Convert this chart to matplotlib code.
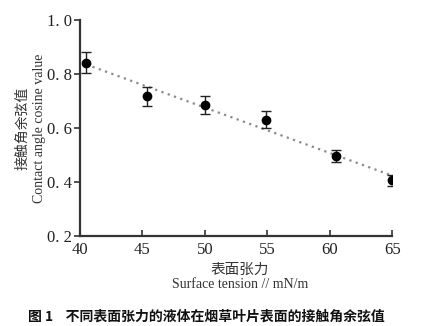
import numpy as np
import matplotlib.pyplot as plt

plt.rcParams['font.family'] = ['Liberation Serif', 'Noto Sans CJK SC', 'DejaVu Serif']

# Surface tension (mN/m) vs. contact angle cosine on tobacco leaf
tension = [40.5, 45.4, 50.0, 54.9, 60.5, 65.0]
cos_value = [0.842, 0.717, 0.686, 0.631, 0.497, 0.406]
cos_err = [0.040, 0.035, 0.033, 0.033, 0.023, 0.020]

x_ticks = [40, 45, 50, 55, 60, 65]
y_ticks = [0.2, 0.4, 0.6, 0.8, 1.0]
y_ticklabels = ['0. 2', '0. 4', '0. 6', '0. 8', '1. 0']

fig = plt.figure(figsize=(4.3, 3.26), dpi=100)
ax = fig.add_axes([0.186, 0.276, 0.726, 0.663])

# linear trend line through the points
k, b = np.polyfit(tension, cos_value, 1)
xs = np.array([tension[0], tension[-1]])
ax.plot(xs, k * xs + b, linestyle=(0, (1, 2)), color='#8a8a8a', linewidth=1.6, zorder=1)

ax.errorbar(tension, cos_value, yerr=cos_err, fmt='o', color='black',
            ecolor='#222222', elinewidth=1.0, capsize=3.5, capthick=1.0,
            markersize=6, zorder=3)

ax.set_xlim(40, 65)
ax.set_ylim(0.2, 1.0)
ax.set_xticks(x_ticks)
ax.set_yticks(y_ticks)
ax.set_yticklabels(y_ticklabels)

for side in ['top', 'right']:
    ax.spines[side].set_visible(False)
for side in ['left', 'bottom']:
    ax.spines[side].set_linewidth(1.6)
    ax.spines[side].set_color('#333333')

ax.tick_params(axis='x', direction='in', length=4, width=1.2, labelsize=12, pad=4, colors='#333333')
ax.tick_params(axis='y', direction='out', length=4, width=1.2, labelsize=12, pad=2, colors='#333333')
for lbl in ax.get_xticklabels() + ax.get_yticklabels():
    lbl.set_color('#222222')

# axis titles, Chinese above English
fig.text(0.052, 0.607, '接触角余弦值', rotation=90, ha='center', va='center',
         fontsize=10, family=['Noto Sans CJK SC'], color='#333333')
fig.text(0.092, 0.607, 'Contact angle cosine value', rotation=90, ha='center', va='center',
         fontsize=10, color='#333333')
fig.text(0.558, 0.172, '表面张力', ha='center', va='center',
         fontsize=10.5, family=['Noto Sans CJK SC'], color='#333333')
fig.text(0.558, 0.128, 'Surface tension // mN/m', ha='center', va='center',
         fontsize=10, color='#333333')

fig.text(0.065, 0.03, '图 1    不同表面张力的液体在烟草叶片表面的接触角余弦值', ha='left', va='center',
         fontsize=10, fontweight='bold', family=['Noto Sans CJK SC'], color='#111111')

fig.savefig('out.png', dpi=100, facecolor='white')
